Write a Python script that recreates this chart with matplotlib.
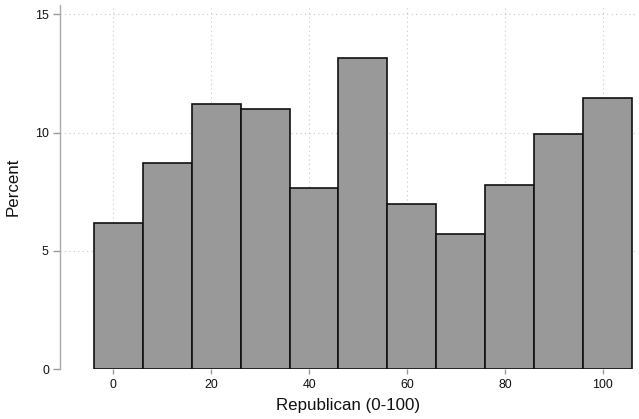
import matplotlib
matplotlib.use("Agg")
import matplotlib.pyplot as plt

# Data
bin_centers = [1, 11, 21, 31, 41, 51, 61, 71, 81, 91, 101]
percents = [6.17, 8.70, 11.21, 11.00, 7.65, 13.16, 6.97, 5.72, 7.80, 9.96, 11.45]
x_ticks = [0, 20, 40, 60, 80, 100]
y_ticks = [0, 5, 10, 15]
x_label = "Republican (0-100)"
y_label = "Percent"

plt.rcParams['font.family'] = ['Liberation Sans', 'DejaVu Sans']

fig = plt.figure(figsize=(6.39, 4.19), dpi=100)
ax = fig.add_axes([60/639, 50/419, 576/639, 364/419])

ax.bar(bin_centers, percents, width=10, color='#999999', edgecolor='#111111',
       linewidth=1.2, zorder=3)

ax.set_xlim(-10.9, 106.8)
ax.set_ylim(0, 15.4)
ax.set_xticks(x_ticks)
ax.set_yticks(y_ticks)

ax.grid(True, linestyle=(0, (1, 3)), color='#c8c8c8', linewidth=0.8, zorder=0)

for s in ['top', 'right', 'bottom']:
    ax.spines[s].set_visible(False)
ax.spines['left'].set_color('#aaaaaa')
ax.spines['left'].set_linewidth(1.0)

ax.tick_params(axis='both', colors='#999999', labelcolor='#111111', labelsize=8.9,
               width=1.0)
ax.tick_params(axis='x', length=3.6, pad=3.4)
ax.tick_params(axis='y', length=5, pad=3)

ax.set_xlabel(x_label, fontsize=12.2, color='#111111', labelpad=5.5)
ax.set_ylabel(y_label, fontsize=12.2, color='#111111', labelpad=10)

fig.savefig("out.png", dpi=100)
